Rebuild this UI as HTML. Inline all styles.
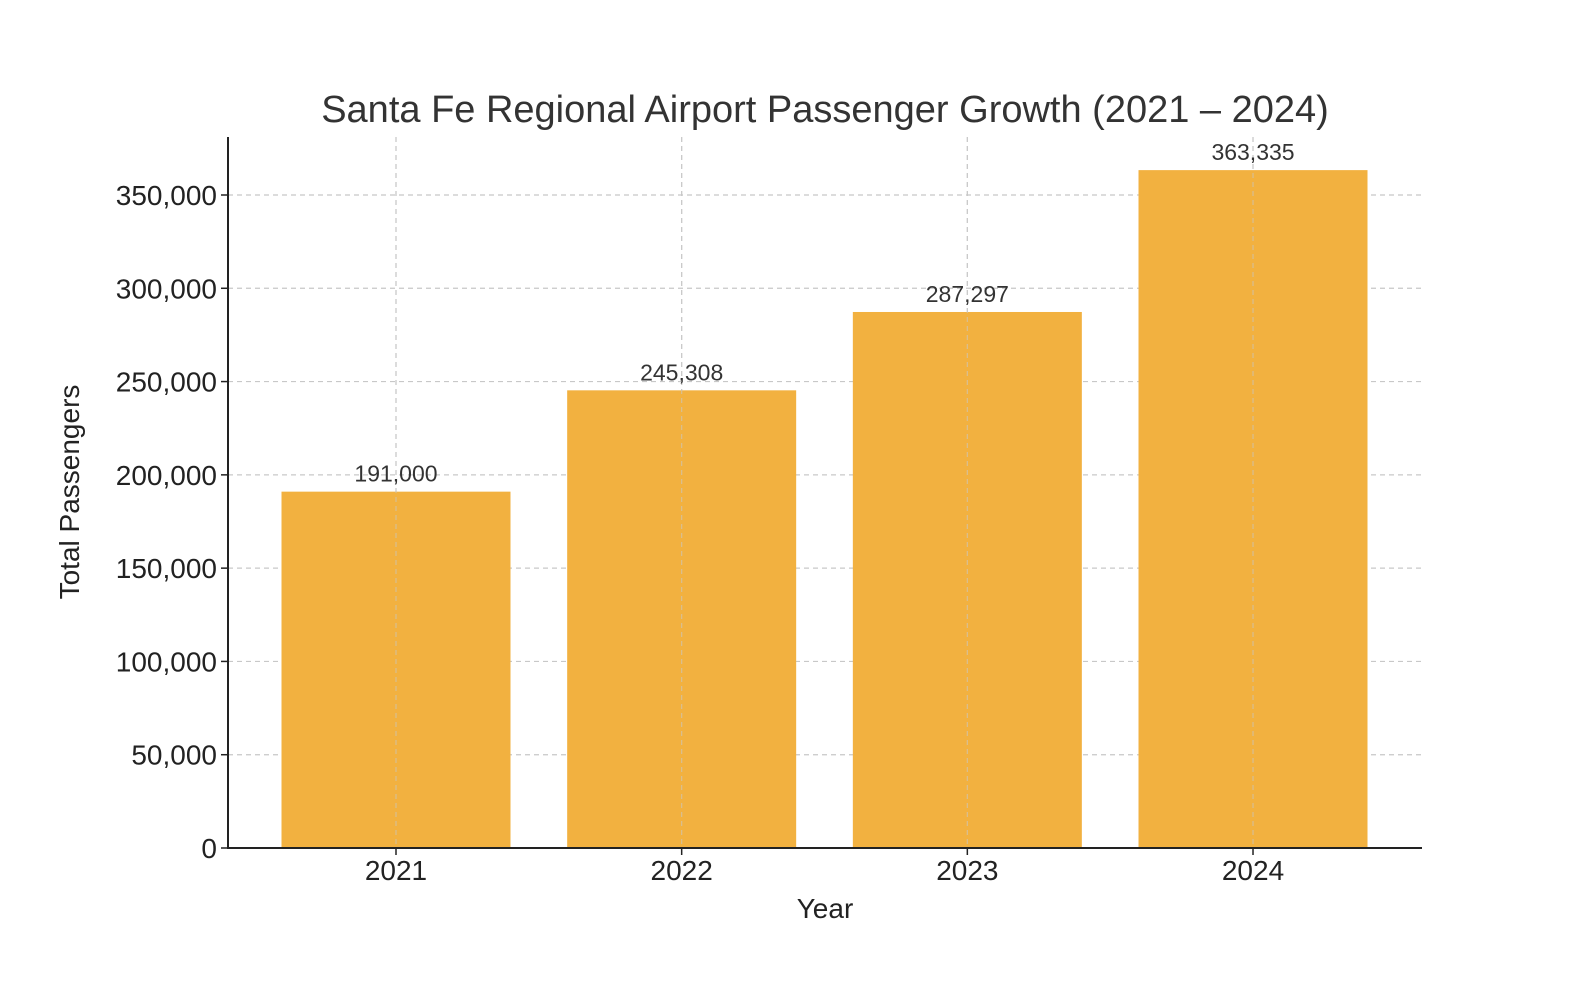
<!DOCTYPE html>
<html><head><meta charset="utf-8"><style>
body{margin:0;background:#fff;font-family:"Liberation Sans","DejaVu Sans",sans-serif}
</style></head><body>
<svg width="1572" height="980" xmlns="http://www.w3.org/2000/svg">
<g id="grid"></g>
<g id="bars"></g>
<g id="axes"></g>
<text x="825" y="122" text-anchor="middle" font-size="38" fill="#333">Santa Fe Regional Airport Passenger Growth (2021 – 2024)</text>
<text x="825" y="918" text-anchor="middle" font-size="28" fill="#222">Year</text>
<text transform="translate(79,492) rotate(-90)" text-anchor="middle" font-size="28" fill="#222">Total Passengers</text>
</svg>
<script>
const categories=["2021","2022","2023","2024"];
const values=[191000,245308,287297,363335];
const yTicks=[0,50000,100000,150000,200000,250000,300000,350000];
const NS="http://www.w3.org/2000/svg";
const L=228,R=1422,B=848,T=137;
const y=v=>B-v*(653/350000);
const x=i=>396+i*285.67;
const bw=229;
function mk(t,a,p){const e=document.createElementNS(NS,t);for(const k in a)e.setAttribute(k,a[k]);p.appendChild(e);return e;}
const g=document.getElementById('grid'),b=document.getElementById('bars'),ax=document.getElementById('axes');
yTicks.forEach(v=>{
 const l=mk('line',{x1:L,x2:R,y1:y(v),y2:y(v),stroke:'#c8c8c8','stroke-dasharray':'5,4','stroke-width':1.2},g);
 
 
 const tk=mk('line',{x1:L-7,x2:L,y1:y(v),y2:y(v),stroke:'#222','stroke-width':1.5},ax);
 
 
 const t=mk('text',{x:L-11,y:y(v)+10,'text-anchor':'end','font-size':28,fill:'#222'},ax);
 t.textContent=v.toLocaleString('en-US');
 
 
});
categories.forEach((c,i)=>{
 const l=mk('line',{x1:x(i),x2:x(i),y1:T,y2:B,stroke:'#c8c8c8','stroke-dasharray':'5,4','stroke-width':1.2},g);
 
 
 const r=mk('rect',{x:x(i)-bw/2,y:y(values[i]),width:bw,height:B-y(values[i]),fill:'#f2b140'},b);
 
 
 const gl=mk('line',{x1:x(i),x2:x(i),y1:T,y2:B,stroke:'#c8c8c8','stroke-dasharray':'5,4','stroke-width':1.2,opacity:0.6},b);
 
 
 const vt=mk('text',{x:x(i),y:y(values[i])-10,'text-anchor':'middle','font-size':23,fill:'#333'},b);
 vt.textContent=values[i].toLocaleString('en-US');
 
 
 const tk=mk('line',{x1:x(i),x2:x(i),y1:B,y2:B+7,stroke:'#222','stroke-width':1.5},ax);
 
 
 const t=mk('text',{x:x(i),y:B+32,'text-anchor':'middle','font-size':28,fill:'#222'},ax);
 t.textContent=c;
 
 
});
const la=mk('line',{x1:L,x2:L,y1:T,y2:B+1,stroke:'#222','stroke-width':2},ax);


const ba=mk('line',{x1:L-1,x2:R,y1:B,y2:B,stroke:'#222','stroke-width':2},ax);


</script>
</body></html>
